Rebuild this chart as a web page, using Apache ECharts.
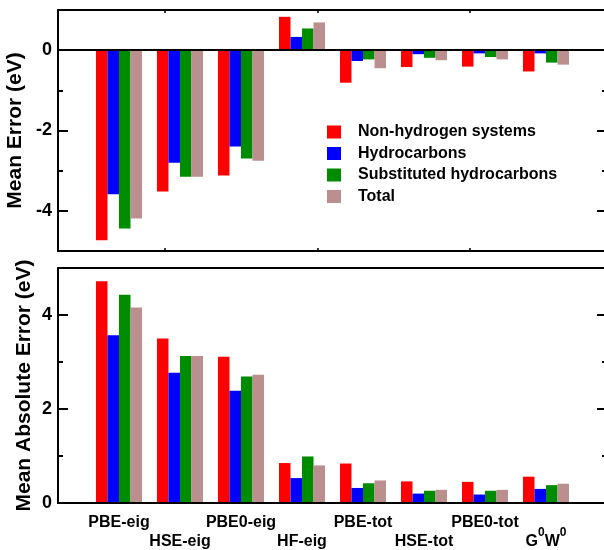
<!DOCTYPE html>
<html><head><meta charset="utf-8">
<script src="https://cdn.jsdelivr.net/npm/echarts@6/dist/echarts.min.js"></script>
<style>html,body{margin:0;padding:0;background:#fff}#c{width:604px;height:550px}</style>
</head><body><div id="c"></div>
<script>
// ---- data ----
const methods = ['PBE-eig','HSE-eig','PBE0-eig','HF-eig','PBE-tot','HSE-tot','PBE0-tot','G0W0'];
const seriesNames = ['Non-hydrogen systems','Hydrocarbons','Substituted hydrocarbons','Total'];
const meNonH  = [-4.73,-3.52,-3.12,0.83,-0.81,-0.42,-0.41,-0.53];
const meHydro = [-3.59,-2.80,-2.40,0.33,-0.27,-0.10,-0.08,-0.08];
const meSubst = [-4.44,-3.15,-2.70,0.54,-0.23,-0.19,-0.17,-0.31];
const meTotal = [-4.19,-3.15,-2.75,0.69,-0.45,-0.25,-0.23,-0.36];
const maeNonH  = [4.72,3.50,3.11,0.85,0.84,0.46,0.45,0.56];
const maeHydro = [3.57,2.77,2.39,0.53,0.32,0.20,0.18,0.30];
const maeSubst = [4.43,3.13,2.69,0.99,0.42,0.26,0.26,0.38];
const maeTotal = [4.16,3.13,2.73,0.80,0.48,0.28,0.28,0.41];
const meTickLabels = [0,-2,-4];
const maeTickLabels = [0,2,4];

// ---- styling ----
const FONT = "'Liberation Sans', Arial, Helvetica, sans-serif";
const colors = ['#ff0000','#0000ff','#008c00','#bc8f8f'];
const cats = ['_l'].concat(methods, ['_r']);
const fineCats = Array.from({length:37}, (_, i) => 'f' + i);
const black = {color:'#000', width:2};

function catLabel(value, index) {
  const i = methods.indexOf(value);
  if (i < 0) return '';
  let txt = value === 'G0W0' ? '{g|G}{s|0}{g|W}{s|0}' : value;
  return (i % 2 === 1 ? '\n' : '') + txt;
}

function yPair(grid, pos, min, max, longEven, labels, name, nameGap) {
  const short = {
    gridIndex: grid, type:'value', position: pos, min, max, interval:1, z:3,
    axisLine:{show:true, onZero:false, lineStyle:black},
    axisTick:{show:true, inside:true, length:5, lineStyle:black},
    splitLine:{show:false},
    axisLabel: labels ? {show:true, margin:6, fontSize:18, fontWeight:'bold', fontFamily:FONT, color:'#000',
      formatter: v => labels.includes(v) ? String(v) : ''} : {show:false}
  };
  if (name) {
    short.name = name; short.nameLocation = 'middle'; short.nameGap = nameGap;
    short.nameMoveOverlap = false;
    short.nameTextStyle = {fontSize:21, fontWeight:'bold', fontFamily:FONT, color:'#000'};
  }
  let long;
  if (longEven === 'minor') {
    long = {gridIndex:grid, type:'value', position:pos, min, max, interval:2, z:3,
      axisLine:{show:false, onZero:false}, axisTick:{show:false, inside:true},
      minorTick:{show:true, splitNumber:2, length:10, lineStyle:black},
      splitLine:{show:false}, minorSplitLine:{show:false}, axisLabel:{show:false}};
  } else {
    long = {gridIndex:grid, type:'value', position:pos, min, max, interval:2, z:3,
      axisLine:{show:false, onZero:false}, axisTick:{show:true, inside:true, length:10, lineStyle:black},
      splitLine:{show:false}, axisLabel:{show:false}};
  }
  return [short, long];
}

const yAxes = [].concat(
  yPair(0, 'left', -5, 1, 'minor', meTickLabels, 'Mean Error (eV)', 32),
  yPair(0, 'right', -5, 1, 'minor', null),
  yPair(1, 'left', 0, 5, 'major', maeTickLabels, 'Mean Absolute Error (eV)', 23),
  yPair(1, 'right', 0, 5, 'major', null)
);

const fineTick = (pos) => ({
  gridIndex:0, type:'category', data:fineCats, boundaryGap:false, position:pos, z:3,
  axisLine:{show:true, onZero:false, lineStyle:black},
  axisTick:{show:true, inside:true, length:3, interval:(i) => i % 10 === 7, lineStyle:{color:'#000', width:1.5}},
  axisLabel:{show:false}, splitLine:{show:false}
});

const xAxes = [
  {gridIndex:0, type:'category', data:cats, boundaryGap:false, position:'bottom', z:3,
   axisLine:{show:true, onZero:true, onZeroAxisIndex:0, lineStyle:black},
   axisTick:{show:false}, axisLabel:{show:false}},
  fineTick('top'),
  fineTick('bottom'),
  {gridIndex:1, type:'category', data:cats, boundaryGap:false, position:'bottom', z:3,
   axisLine:{show:true, onZero:false, lineStyle:black},
   axisTick:{show:false},
   axisLabel:{show:true, interval:0, margin:10, fontSize:16, fontWeight:'bold', fontFamily:FONT, color:'#000',
     lineHeight:19, formatter:catLabel,
     rich:{
       g:{fontSize:16, fontWeight:'bold', fontFamily:FONT, color:'#000', lineHeight:19},
       s:{fontSize:12, fontWeight:'bold', fontFamily:FONT, color:'#000', height:2, lineHeight:2, verticalAlign:'top'}
     }}},
  {gridIndex:1, type:'category', data:cats, boundaryGap:false, position:'top', z:3,
   axisLine:{show:true, onZero:false, lineStyle:black},
   axisTick:{show:false}, axisLabel:{show:false}}
];

function bars(name, vals, color, panel) {
  return {type:'bar', name, xAxisIndex: panel === 0 ? 0 : 3, yAxisIndex: panel === 0 ? 0 : 4,
    data: ['-'].concat(vals, ['-']), itemStyle:{color}, barGap:'0%', barCategoryGap:'24.5%',
    silent:true, z:2};
}

const meSets = [meNonH, meHydro, meSubst, meTotal];
const maeSets = [maeNonH, maeHydro, maeSubst, maeTotal];
const series = [];
seriesNames.forEach((n, k) => series.push(bars(n, meSets[k], colors[k], 0)));
seriesNames.forEach((n, k) => series.push(bars(n, maeSets[k], colors[k], 1)));

const chart = echarts.init(document.getElementById('c'), null, {renderer:'canvas'});
chart.setOption({
  animation:false,
  backgroundColor:'#fff',
  grid:[{left:58, top:10, right:-3, height:241, outerBoundsMode:'none', containLabel:false},
        {left:58, top:268, right:-3, height:235, outerBoundsMode:'none', containLabel:false}],
  xAxis:xAxes,
  yAxis:yAxes,
  legend:{data:seriesNames, orient:'vertical', left:327, top:124, padding:0,
    itemWidth:14, itemHeight:13, itemGap:5.5, icon:'rect', selectedMode:false,
    textStyle:{fontSize:16, fontWeight:'bold', fontFamily:FONT, color:'#000', lineHeight:16, padding:[0,0,0,12]}},
  series
});
</script></body></html>
